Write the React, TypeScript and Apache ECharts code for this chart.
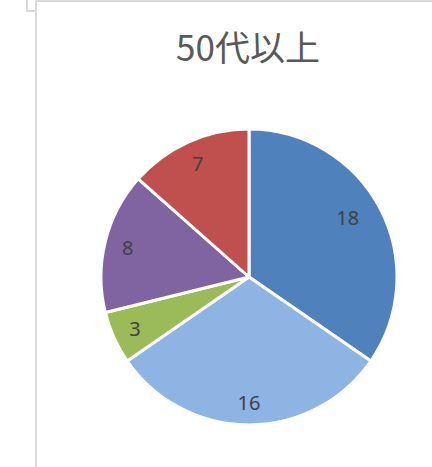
import React, { useEffect, useRef } from "react";
import * as echarts from "echarts";

const titleText = "50代以上";
const categories = ["A", "B", "C", "D", "E"];
const values = [18, 16, 3, 8, 7];
const colors = ["#4F81BD", "#8EB4E3", "#9BBB59", "#8064A2", "#C0504D"];

export default function App() {
  const ref = useRef<HTMLDivElement>(null);
  useEffect(() => {
    const chart = echarts.init(ref.current!, undefined, { renderer: "svg" });
    const data = categories.map((c, i) => ({
      name: c,
      value: values[i],
      itemStyle: { color: colors[i] },
    }));
    const lineStyle = { stroke: "#D9D9D9", lineWidth: 2 };
    chart.setOption({
      animation: false,
      backgroundColor: "#ffffff",
      title: {
        text: titleText,
        left: 248,
        textAlign: "center",
        top: 28,
        padding: 0,
        textStyle: {
          fontFamily: "'Noto Sans CJK JP', 'Noto Sans', sans-serif",
          fontSize: 35,
          fontWeight: "normal",
          color: "#595959",
        },
      },
      graphic: [
        { type: "line", shape: { x1: 36, y1: 0, x2: 36, y2: 467 }, style: lineStyle },
        { type: "line", shape: { x1: 35, y1: 1, x2: 432, y2: 1 }, style: lineStyle },
        { type: "line", shape: { x1: 27, y1: 0, x2: 27, y2: 11 }, style: lineStyle },
        { type: "line", shape: { x1: 26, y1: 11, x2: 36, y2: 11 }, style: lineStyle },
      ],
      series: [
        {
          type: "pie",
          center: [249, 277],
          radius: [0, 148],
          startAngle: 90,
          clockwise: true,
          silent: true,
          data,
          itemStyle: { borderColor: "#ffffff", borderWidth: 3 },
          label: { show: false },
          labelLine: { show: false },
        },
        {
          type: "pie",
          center: [249, 277],
          radius: [96, 148],
          startAngle: 90,
          clockwise: true,
          silent: true,
          data: categories.map((c, i) => ({
            name: c,
            value: values[i],
            label: i === 0 ? { offset: [-12, -1] } : undefined,
          })),
          itemStyle: { color: "transparent" },
          label: {
            show: true,
            position: "inside",
            formatter: "{c}",
            fontFamily: "'Noto Sans', sans-serif",
            fontSize: 20,
            color: "#404040",
          },
          labelLine: { show: false },
        },
      ],
    });
    return () => chart.dispose();
  }, []);
  return (
    <div
      ref={ref}
      style={{ position: "fixed", left: 0, top: 0, width: 432, height: 467 }}
    />
  );
}
